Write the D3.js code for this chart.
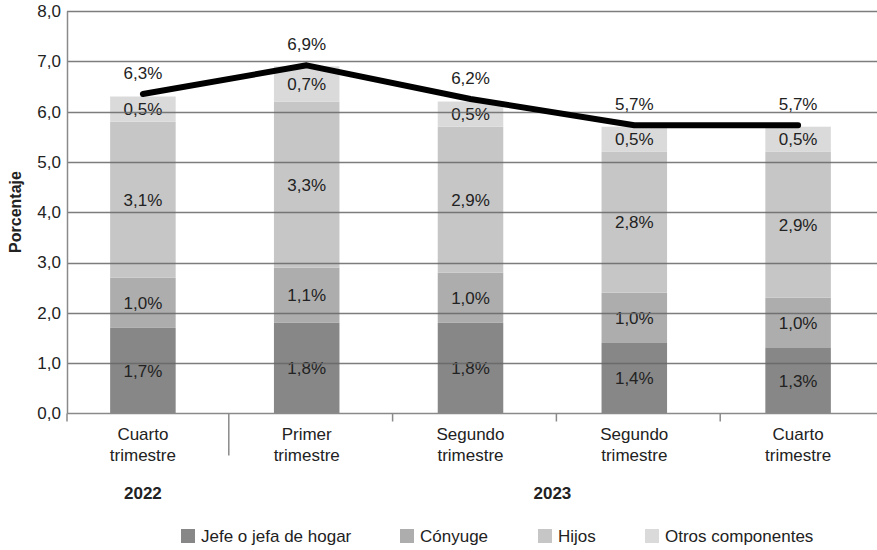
<!DOCTYPE html>
<html>
<head>
<meta charset="utf-8">
<script src="https://cdn.jsdelivr.net/npm/d3@7"></script>
<style>
  body { margin: 0; background: #fff; }
  text { font-family: "Liberation Sans", Arial, sans-serif; fill: #222; }
</style>
</head>
<body>
<div id="chart"></div>
<script>
// data
var quarters = [["Cuarto", "trimestre"], ["Primer", "trimestre"], ["Segundo", "trimestre"], ["Segundo", "trimestre"], ["Cuarto", "trimestre"]];
var years = [{label: "2022", from: 0, to: 0}, {label: "2023", from: 1, to: 4}];
var seriesNames = ["Jefe o jefa de hogar", "Cónyuge", "Hijos", "Otros componentes"];
var jefe = [1.7, 1.8, 1.8, 1.4, 1.3];
var conyuge = [1.0, 1.1, 1.0, 1.0, 1.0];
var hijos = [3.1, 3.3, 2.9, 2.8, 2.9];
var otros = [0.5, 0.7, 0.5, 0.5, 0.5];
var totalLine = [6.35, 6.92, 6.25, 5.73, 5.73];
var totalLabels = ["6,3%", "6,9%", "6,2%", "5,7%", "5,7%"];
var yTicks = [0, 1, 2, 3, 4, 5, 6, 7, 8];

var colors = ["#878787", "#adadad", "#c6c6c6", "#dadada"];

var width = 877, height = 550;
var margin = {top: 11, left: 67, bottom: 137};
var fs = "17px";

var svg = d3.select("#chart")
  .append("svg")
  .attr("width", width)
  .attr("height", height);

var fmt = function (v) { return d3.format(".1f")(v).replace(".", ","); };

var rows = quarters.map(function (q, i) {
  return {i: i, s0: jefe[i], s1: conyuge[i], s2: hijos[i], s3: otros[i]};
});
var keys = ["s0", "s1", "s2", "s3"];
var stacked = d3.stack().keys(keys)(rows);

// band scale for bars; the axis itself starts a bit further right
var x = d3.scaleBand()
  .domain(d3.range(quarters.length))
  .range([61, 880])
  .paddingInner(0.6)
  .paddingOuter(0.3);

var y = d3.scaleLinear()
  .domain([0, 8])
  .range([height - margin.bottom + 0.4, margin.top]);

var cx = function (i) { return x(i) + x.bandwidth() / 2; };

// bars
var g = svg.append("g");
g.selectAll("g.layer")
  .data(stacked)
  .enter()
  .append("g")
    .attr("fill", function (d, k) { return colors[k]; })
  .selectAll("rect")
  .data(function (d) { return d; })
  .enter()
  .append("rect")
    .attr("x", function (d) { return x(d.data.i); })
    .attr("width", x.bandwidth())
    .attr("y", function (d) { return y(d[1]); })
    .attr("height", function (d) { return y(d[0]) - y(d[1]); });

// gridlines over bars
svg.append("g")
  .selectAll("line")
  .data(yTicks.slice(1))
  .enter()
  .append("line")
    .attr("x1", margin.left)
    .attr("x2", width)
    .attr("y1", function (d) { return Math.round(y(d)) + 0.5; })
    .attr("y2", function (d) { return Math.round(y(d)) + 0.5; })
    .attr("stroke", "#666")
    .attr("stroke-opacity", 0.85)
    .attr("stroke-width", 1.3);

// y axis
var yAxis = svg.append("g")
  .attr("transform", "translate(" + margin.left + ",0)")
  .call(d3.axisLeft(y).tickValues(yTicks).tickFormat(fmt).tickSize(0).tickPadding(6));
yAxis.select(".domain").attr("stroke", "#8a8a8a").attr("stroke-width", 1.5);
yAxis.selectAll("text").attr("font-size", fs).attr("fill", "#222")
  .style("font-family", "'Liberation Sans', Arial, sans-serif");

svg.append("text")
  .attr("transform", "translate(21," + 212 + ") rotate(-90)")
  .attr("text-anchor", "middle")
  .attr("font-size", "16px")
  .attr("font-weight", "bold")
  .text("Porcentaje");

// x axis line
var y0 = Math.round(y(0)) + 0.5;
svg.append("line")
  .attr("x1", margin.left).attr("x2", width)
  .attr("y1", y0).attr("y2", y0)
  .attr("stroke", "#8a8a8a").attr("stroke-width", 1.5);

// tick marks between categories
var tickXs = [margin.left].concat(d3.range(1, quarters.length).map(function (i) {
  return (cx(i - 1) + cx(i)) / 2 + 4;
}));
svg.append("g")
  .selectAll("line")
  .data(tickXs)
  .enter()
  .append("line")
    .attr("x1", function (d) { return d; })
    .attr("x2", function (d) { return d; })
    .attr("y1", y0)
    .attr("y2", function (d, i) { return i === 1 ? y0 + 42 : y0 + 8; })
    .attr("stroke", "#8a8a8a")
    .attr("stroke-width", 1.5);

// category labels
var cat = svg.append("g")
  .selectAll("text")
  .data(quarters)
  .enter()
  .append("text")
    .attr("x", function (d, i) { return cx(i); })
    .attr("y", 440)
    .attr("text-anchor", "middle")
    .attr("font-size", fs);
cat.append("tspan").attr("x", function (d, i) { return cx(i); }).text(function (d) { return d[0]; });
cat.append("tspan").attr("x", function (d, i) { return cx(i); }).attr("dy", 21).text(function (d) { return d[1]; });

// year labels, centred under their group of quarters
svg.append("g")
  .selectAll("text")
  .data(years)
  .enter()
  .append("text")
    .attr("x", function (d) { return (cx(d.from) + cx(d.to)) / 2; })
    .attr("y", 499)
    .attr("text-anchor", "middle")
    .attr("font-size", "17px")
    .attr("font-weight", "bold")
    .text(function (d) { return d.label; });

// segment value labels
stacked.forEach(function (layer) {
  g.append("g")
    .selectAll("text")
    .data(layer)
    .enter()
    .append("text")
      .attr("x", function (d) { return cx(d.data.i); })
      .attr("y", function (d) { return (y(d[0]) + y(d[1])) / 2; })
      .attr("dy", "0.36em")
      .attr("text-anchor", "middle")
      .attr("font-size", fs)
      .text(function (d) { return fmt(d[1] - d[0]) + "%"; });
});

// total line
var line = d3.line()
  .x(function (d, i) { return cx(i); })
  .y(function (d) { return y(d); });
svg.append("path")
  .datum(totalLine)
  .attr("d", line)
  .attr("fill", "none")
  .attr("stroke", "#000")
  .attr("stroke-width", 6)
  .attr("stroke-linecap", "round")
  .attr("stroke-linejoin", "round");

svg.append("g")
  .selectAll("text")
  .data(totalLine)
  .enter()
  .append("text")
    .attr("x", function (d, i) { return cx(i); })
    .attr("y", function (d) { return y(d) - 15; })
    .attr("text-anchor", "middle")
    .attr("font-size", fs)
    .text(function (d, i) { return totalLabels[i]; });

// legend
var legendX = [181, 400, 538, 645];
var legend = svg.append("g")
  .selectAll("g")
  .data(seriesNames)
  .enter()
  .append("g")
    .attr("transform", function (d, i) { return "translate(" + legendX[i] + ",529)"; });
legend.append("rect")
  .attr("width", 14).attr("height", 14)
  .attr("fill", function (d, i) { return colors[i]; });
legend.append("text")
  .attr("x", 20)
  .attr("y", 13)
  .attr("font-size", fs)
  .text(function (d) { return d; });
</script>
</body>
</html>
